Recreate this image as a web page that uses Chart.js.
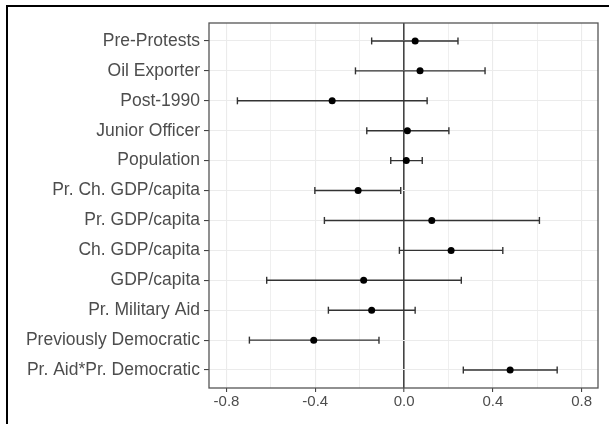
<!DOCTYPE html>
<html><head><meta charset="utf-8">
<script src="https://cdn.jsdelivr.net/npm/chart.js@4.4.0/dist/chart.umd.min.js"></script>
<style>
html,body{margin:0;padding:0;background:#fff;}
#wrap{position:relative;width:609px;height:424px;}
#frame{position:absolute;left:6px;top:5px;right:0;bottom:0;border-left:2px solid #000;border-top:2px solid #000;pointer-events:none;}
</style></head><body>
<div id="wrap"><canvas id="c" width="609" height="424"></canvas><div id="frame"></div></div>
<script>
const categories = ["Pre-Protests","Oil Exporter","Post-1990","Junior Officer","Population","Pr. Ch. GDP/capita","Pr. GDP/capita","Ch. GDP/capita","GDP/capita","Pr. Military Aid","Previously Democratic","Pr. Aid*Pr. Democratic"];
const estimates = [0.050, 0.072, -0.324, 0.015, 0.010, -0.207, 0.125, 0.212, -0.182, -0.146, -0.407, 0.478];
const lower = [-0.146, -0.219, -0.751, -0.168, -0.060, -0.402, -0.359, -0.021, -0.619, -0.341, -0.697, 0.267];
const upper = [0.243, 0.365, 0.104, 0.202, 0.082, -0.015, 0.610, 0.445, 0.258, 0.050, -0.113, 0.690];
const xTicks = [-0.8, -0.6, -0.4, -0.2, 0, 0.2, 0.4, 0.6, 0.8];
const xMajor = [-0.8, -0.4, 0, 0.4, 0.8];

Chart.defaults.font.family = "'Liberation Sans', Arial, Helvetica, sans-serif";

const pointData = estimates.map((v, i) => ({x: v, y: i}));
const whiskerData = [];
categories.forEach((c, i) => {
  whiskerData.push({x: lower[i], y: i});
  whiskerData.push({x: upper[i], y: i});
  whiskerData.push({x: upper[i], y: null});
});

const panelBorder = {
  id: 'panelBorder',
  afterDraw(chart) {
    const a = chart.chartArea, ctx = chart.ctx;
    ctx.save();
    ctx.strokeStyle = '#555';
    ctx.lineWidth = 1.3;
    ctx.strokeRect(a.left, a.top, a.right - a.left, a.bottom - a.top);
    ctx.restore();
  }
};

new Chart(document.getElementById('c'), {
  type: 'scatter',
  data: {
    datasets: [
      {
        data: pointData,
        pointStyle: 'circle',
        pointRadius: 3.5,
        pointHoverRadius: 3.5,
        backgroundColor: '#000',
        borderColor: '#000',
        borderWidth: 0,
        showLine: false,
        order: 0
      },
      {
        data: whiskerData,
        showLine: true,
        spanGaps: false,
        borderColor: '#333',
        borderWidth: 1.4,
        pointStyle: 'line',
        rotation: 90,
        pointRadius: 3.5,
        pointHoverRadius: 3.5,
        pointBorderColor: '#333',
        pointBorderWidth: 1.4,
        order: 1
      }
    ]
  },
  options: {
    responsive: false,
    animation: false,
    events: [],
    layout: {padding: {top: 23, right: 11, bottom: 0, left: 0}},
    plugins: {legend: {display: false}, tooltip: {enabled: false}},
    scales: {
      x: {
        type: 'linear',
        min: -0.879,
        max: 0.874,
        afterBuildTicks: s => { s.ticks = xTicks.map(v => ({value: v})); },
        afterFit: s => { s.height = 36; },
        ticks: {
          autoSkip: false, maxRotation: 0, padding: 1,
          color: '#4d4d4d', font: {size: 15},
          callback: v => xMajor.includes(v) ? v.toFixed(1) : ''
        },
        grid: {
          color: c => (c.tick && c.tick.value === 0) ? '#444' : '#ebebeb',
          lineWidth: c => (c.tick && c.tick.value === 0) ? 1.6 : (c.tick && xMajor.includes(c.tick.value) ? 1.1 : 0.8),
          tickColor: c => (c.tick && xMajor.includes(c.tick.value)) ? '#444' : 'rgba(0,0,0,0)',
          tickLength: 4,
          tickWidth: 1.1
        },
        border: {display: false}
      },
      y: {
        type: 'linear',
        min: -0.6,
        max: 11.6,
        reverse: true,
        afterBuildTicks: s => { s.ticks = categories.map((c, i) => ({value: i})); },
        afterFit: s => { s.width = 209; },
        ticks: {
          autoSkip: false, padding: 4,
          color: '#4d4d4d', font: {size: 17.5},
          callback: v => categories[v]
        },
        grid: {
          color: '#ebebeb',
          lineWidth: 1.1,
          tickColor: '#444',
          tickLength: 5,
          tickWidth: 1.1
        },
        border: {display: false}
      }
    }
  },
  plugins: [panelBorder]
});
</script>
</body></html>
